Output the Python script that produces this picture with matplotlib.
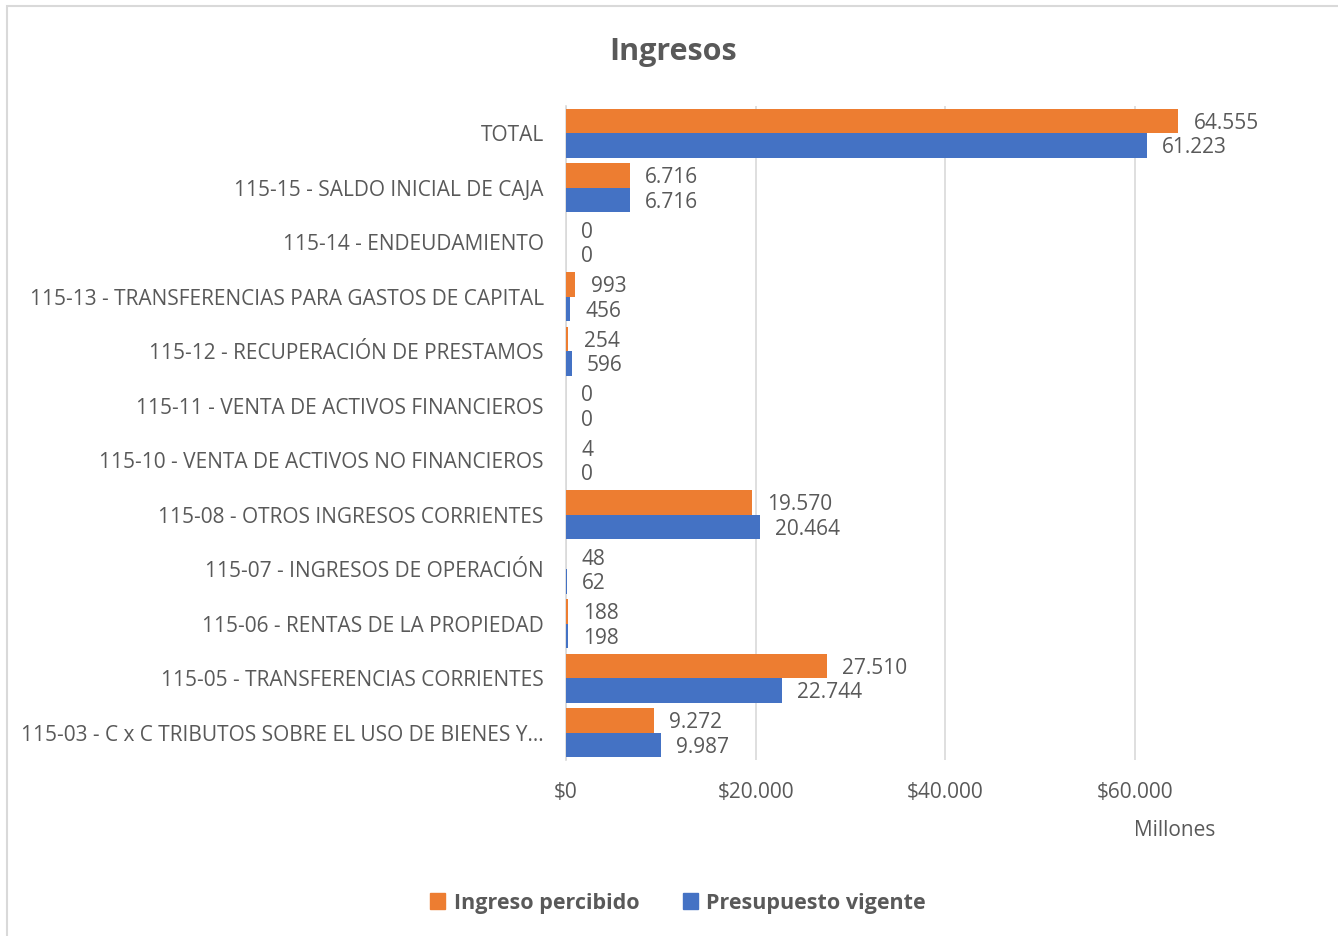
import numpy as np
import matplotlib
matplotlib.use('Agg')
import matplotlib.pyplot as plt
from matplotlib.patches import Rectangle, Patch

# ── Data ──────────────────────────────────────────────────────────────────────
CATEGORIES = [
    'TOTAL',
    '115-15 - SALDO INICIAL DE CAJA',
    '115-14 - ENDEUDAMIENTO',
    '115-13 - TRANSFERENCIAS PARA GASTOS DE CAPITAL',
    '115-12 - RECUPERACIÓN DE PRESTAMOS',
    '115-11 - VENTA DE ACTIVOS FINANCIEROS',
    '115-10 - VENTA DE ACTIVOS NO FINANCIEROS',
    '115-08 - OTROS INGRESOS CORRIENTES',
    '115-07 - INGRESOS DE OPERACIÓN',
    '115-06 - RENTAS DE LA PROPIEDAD',
    '115-05 - TRANSFERENCIAS CORRIENTES',
    '115-03 - C x C TRIBUTOS SOBRE EL USO DE BIENES Y…',
]
INGRESO_PERCIBIDO   = [64555, 6716, 0, 993, 254, 0, 4, 19570, 48, 188, 27510, 9272]
PRESUPUESTO_VIGENTE = [61223, 6716, 0, 456, 596, 0, 0, 20464, 62, 198, 22744, 9987]
X_TICKS = [0, 20000, 40000, 60000]

C_ING  = '#ED7D31'
C_PRES = '#4472C4'
TXT    = '#595959'
GRID   = '#D9D9D9'
FONT   = 'Open Sans'

plt.rcParams['font.family'] = [FONT, 'DejaVu Sans']


def fmt(v):
    return f'{v:,.0f}'.replace(',', '.')


W, H = 1338, 936
fig = plt.figure(figsize=(W / 100, H / 100), dpi=100)

# outer chart border
fig.patches.append(Rectangle((7 / W, -0.01), 1.02, 1 - 6 / H + 0.01,
                             transform=fig.transFigure, fill=False,
                             edgecolor=GRID, lw=1.5))

ax_l, ax_r, ax_t, ax_b = 566, 1230, 106, 760
ax = fig.add_axes([ax_l / W, 1 - ax_b / H, (ax_r - ax_l) / W, (ax_b - ax_t) / H])

n = len(CATEGORIES)
y = np.arange(n)
bh = 0.45

ax.barh(y - bh / 2, INGRESO_PERCIBIDO, height=bh, color=C_ING, zorder=3)
ax.barh(y + bh / 2, PRESUPUESTO_VIGENTE, height=bh, color=C_PRES, zorder=3)

for yi, v in zip(y, INGRESO_PERCIBIDO):
    ax.annotate(fmt(v), (v, yi - bh / 2), xytext=(11, -1.5), textcoords='offset points',
                ha='left', va='center', fontsize=15, color=TXT)
for yi, v in zip(y, PRESUPUESTO_VIGENTE):
    ax.annotate(fmt(v), (v, yi + bh / 2), xytext=(11, -1.5), textcoords='offset points',
                ha='left', va='center', fontsize=15, color=TXT)

ax.set_xlim(0, 70000)
ax.set_ylim(n - 0.5, -0.5)
ax.set_yticks(y)
ax.set_yticklabels(CATEGORIES, fontsize=15, color=TXT)
ax.set_xticks(X_TICKS)
ax.set_xticklabels(['$' + fmt(t) for t in X_TICKS], fontsize=15, color=TXT)
ax.tick_params(axis='both', length=0)
ax.tick_params(axis='y', pad=16)
ax.tick_params(axis='x', pad=16)
ax.grid(axis='x', color=GRID, lw=1.2, zorder=0)
for s in ['top', 'right', 'bottom']:
    ax.spines[s].set_visible(False)
ax.spines['left'].set_color(GRID)
ax.spines['left'].set_linewidth(1.2)

fig.text(673 / W, 1 - 52 / H, 'Ingresos', ha='center', va='center',
         fontsize=22, fontweight='bold', color=TXT)
fig.text(1175 / W, 1 - 831 / H, 'Millones', ha='center', va='center',
         fontsize=15, color=TXT)

fig.legend(handles=[Patch(color=C_ING, label='Ingreso percibido'),
                    Patch(color=C_PRES, label='Presupuesto vigente')],
           loc='center', bbox_to_anchor=(678 / W, 1 - 903 / H), ncol=2,
           frameon=False, handlelength=0.7, handleheight=0.7,
           handletextpad=0.4, columnspacing=2.0,
           prop={'family': FONT, 'weight': 'bold', 'size': 15.5},
           labelcolor=TXT)

fig.savefig('out.png', dpi=100, facecolor='white')
